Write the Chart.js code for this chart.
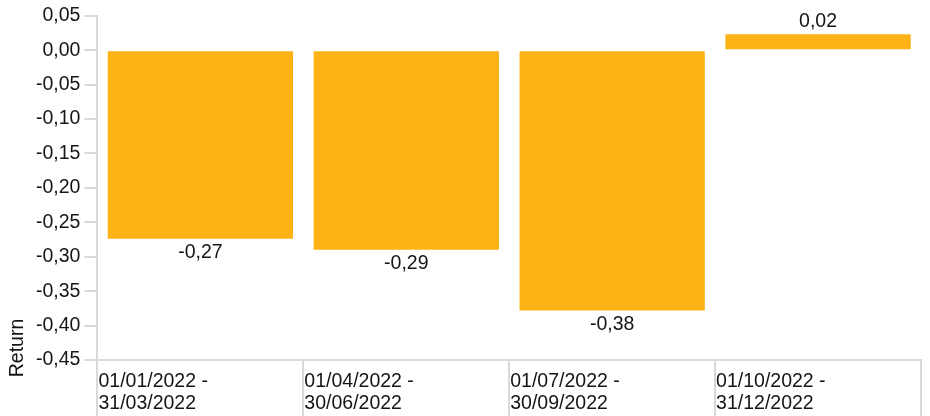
<!DOCTYPE html>
<html>
<head>
<meta charset="utf-8">
<script src="https://cdn.jsdelivr.net/npm/chart.js@4"></script>
<style>
  html, body { margin: 0; padding: 0; background: #fff; }
  #wrap { width: 930px; height: 416px; }
</style>
</head>
<body>
<div id="wrap"><canvas id="returnChart" width="930" height="416"></canvas></div>
<script>
// quarters and returns
const periods = [
    ['01/01/2022 -', '31/03/2022'],
    ['01/04/2022 -', '30/06/2022'],
    ['01/07/2022 -', '30/09/2022'],
    ['01/10/2022 -', '31/12/2022']
];
const returns = [-0.274, -0.29, -0.378, 0.023];
const yMin = -0.45;
const yMax = 0.05;
const yStep = 0.05;
const axisTitle = 'Return';

const fmt = v => v.toFixed(2).replace('.', ',');
const gridColor = '#d9d9d9';
const textColor = '#151515';
const fontFamily = '"Liberation Sans", Arial, sans-serif';
const fontSize = 19.5;

// value labels under / over bars
const valueLabels = {
    id: 'valueLabels',
    afterDatasetsDraw(chart) {
        const c = chart.ctx;
        const meta = chart.getDatasetMeta(0);
        c.save();
        c.font = fontSize + 'px ' + fontFamily;
        c.fillStyle = textColor;
        c.textAlign = 'center';
        c.textBaseline = 'middle';
        meta.data.forEach((bar, i) => {
            const v = returns[i];
            const y = v < 0 ? bar.y + 14 : bar.y - 13;
            c.fillText(fmt(v), bar.x, y);
        });
        c.restore();
    }
};

// x labels left-aligned at the start of each category, plus the axis title
const axisText = {
    id: 'axisText',
    afterDraw(chart) {
        const c = chart.ctx;
        const xs = chart.scales.x;
        const half = (xs.getPixelForTick(1) - xs.getPixelForTick(0)) / 2;
        c.save();
        c.font = fontSize + 'px ' + fontFamily;
        c.fillStyle = textColor;
        c.textAlign = 'left';
        c.textBaseline = 'middle';
        periods.forEach((lines, i) => {
            const x = xs.getPixelForTick(i) - half + 1;
            lines.forEach((t, j) => c.fillText(t, x, xs.top + 22 + j * 22));
        });
        c.textAlign = 'center';
        c.translate(18, chart.chartArea.bottom - 12);
        c.rotate(-Math.PI / 2);
        c.fillText(axisTitle, 0, 0);
        c.restore();
    }
};

const ctx = document.getElementById('returnChart').getContext('2d');
new Chart(ctx, {
    type: 'bar',
    data: {
        labels: periods,
        datasets: [{
            data: returns,
            backgroundColor: '#fdb316',
            borderWidth: 0,
            categoryPercentage: 0.9,
            barPercentage: 1
        }]
    },
    options: {
        responsive: false,
        animation: false,
        layout: { padding: { left: 32, right: 9, top: 4, bottom: 0 } },
        plugins: {
            legend: { display: false },
            tooltip: { enabled: false }
        },
        scales: {
            x: {
                offset: true,
                grid: {
                    offset: true,
                    drawOnChartArea: false,
                    color: gridColor,
                    tickLength: 56,
                    lineWidth: 2
                },
                border: { color: gridColor, width: 2 },
                ticks: { display: false }
            },
            y: {
                min: yMin,
                max: yMax,
                grid: {
                    drawOnChartArea: false,
                    color: gridColor,
                    tickLength: 13,
                    lineWidth: 2
                },
                border: { color: gridColor, width: 2 },
                ticks: {
                    stepSize: yStep,
                    padding: 4,
                    color: textColor,
                    font: { size: fontSize, family: fontFamily },
                    callback: v => fmt(v)
                }
            }
        }
    },
    plugins: [valueLabels, axisText]
});
</script>
</body>
</html>
